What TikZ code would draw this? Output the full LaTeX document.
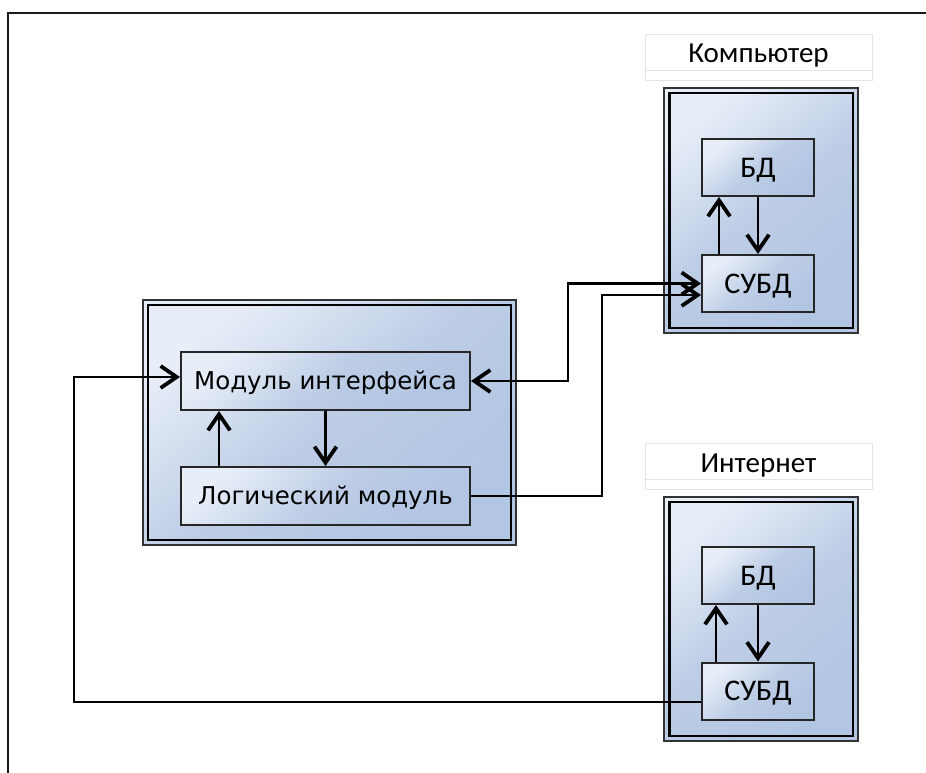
\documentclass[tikz,border=0pt]{standalone}
\usepackage{fontspec}
\newfontfamily\modfont{DejaVu Sans}
\newfontfamily\dbfont{Carlito}
\usetikzlibrary{arrows.meta}
\definecolor{boxlight}{HTML}{E8EEF8}
\definecolor{boxmid}{HTML}{BDCDE6}
\definecolor{boxdark}{HTML}{B2C5E2}
\definecolor{labelline}{HTML}{E4E4E4}
\tikzset{
  blueshade/.style={top color=boxlight, bottom color=boxdark, middle color=boxmid, shading angle=40},
  container/.style={rectangle, blueshade, draw=black!80, line width=2pt, inner sep=0pt},
  innerframe/.style={draw=black, line width=2.4pt},
  modbox/.style={rectangle, blueshade, draw=black!85, line width=2pt,
    minimum width=289pt, minimum height=58pt, inner sep=0pt,
    font=\modfont\fontsize{24.5}{28}\selectfont, text=black, text height=17.8pt, text depth=0pt},
  dbbox/.style={rectangle, blueshade, draw=black!85, line width=2pt,
    minimum width=112pt, minimum height=57pt, inner sep=0pt,
    font=\dbfont\fontsize{30}{34}\selectfont, text=black, text height=19.3pt, text depth=0pt},
  labelbox/.style={rectangle, fill=white, draw=labelline, line width=1pt,
    minimum width=227pt, minimum height=46pt, inner sep=0pt},
  labeltext/.style={anchor=base, inner sep=0pt, font=\dbfont\fontsize{29}{32}\selectfont, text=black},
  conn/.style={draw=black, line width=2.3pt},
  tip/.style={-{Straight Barb[length=16pt,width=22pt,line width=3.8pt]}},
  bothtips/.style={{Straight Barb[length=16pt,width=22pt,line width=3.8pt]}-{Straight Barb[length=16pt,width=22pt,line width=3.8pt]}},
}
\begin{document}
\begin{tikzpicture}[x=1pt,y=-1pt]
\useasboundingbox (0,0) rectangle (926,773);
\fill[white] (0,0) rectangle (926,773);

% outer frame (top and left edges)
\draw[line width=2.4pt, black!90] (8,773) -- (8,13) -- (926,13);

% application container
\node[container, minimum width=373pt, minimum height=245pt] (app) at (329.5,422.5) {};
\draw[innerframe] ([shift={(6pt,-6pt)}]app.north west) rectangle ([shift={(-6pt,6pt)}]app.south east);

% computer container
\node[labelbox] (complab) at (758.5,58) {};
\draw[labelline, line width=1pt] ([yshift=11pt]complab.south west) -- ([yshift=11pt]complab.south east);
\node[labeltext] (comptext) at (758.5,63) {Компьютер};
\node[container, minimum width=194pt, minimum height=245pt] (comp) at (761,210.5) {};
\draw[innerframe] ([shift={(6.5pt,-6pt)}]comp.north west) rectangle ([shift={(-6pt,6pt)}]comp.south east);

% internet container
\node[labelbox] (netlab) at (758.5,466) {};
\draw[labelline, line width=1pt] ([yshift=10pt]netlab.south west) -- ([yshift=10pt]netlab.south east);
\node[labeltext] (nettext) at (758.5,472) {Интернет};
\node[container, minimum width=194pt, minimum height=244pt] (net) at (761,619) {};
\draw[innerframe] ([shift={(6.5pt,-6pt)}]net.north west) rectangle ([shift={(-6pt,6pt)}]net.south east);

% modules
\node[modbox] (mi) at (325.5,381) {Модуль интерфейса};
\node[modbox] (lm) at (325.5,496) {Логический модуль};

% databases and DBMS
\node[dbbox] (bd1) at (758,167.5) {БД};
\node[dbbox] (sb1) at (758,283.5) {СУБД};
\node[dbbox] (bd2) at (758,575.5) {БД};
\node[dbbox] (sb2) at (758,691) {СУБД};

% links inside the application
\draw[conn, tip] ([xshift=39pt]lm.north west) -- ([xshift=39pt]mi.south west);
\draw[conn, tip] (mi.south) -- (lm.north);

% links inside the computer
\draw[conn, tip] ([xshift=18pt]sb1.north west) -- ([xshift=18pt]bd1.south west);
\draw[conn, tip] (bd1.south) -- (sb1.north);

% links inside the internet
\draw[conn, tip] ([xshift=15pt]sb2.north west) -- ([xshift=15pt]bd2.south west);
\draw[conn, tip] (bd2.south) -- (sb2.north);

% interface module <-> local DBMS
\draw[conn, bothtips] (mi.east) -- ++(97,0) |- (sb1.west);
% logic module -> local DBMS
\draw[conn, tip] (lm.east) -- ++(131,0) |- ([yshift=-11.5pt]sb1.west);
% remote DBMS -> interface module
\draw[conn, tip] ([yshift=-11pt]sb2.west) -- ++(-627,0) |- ([yshift=4pt]mi.west);
\end{tikzpicture}
\end{document}
